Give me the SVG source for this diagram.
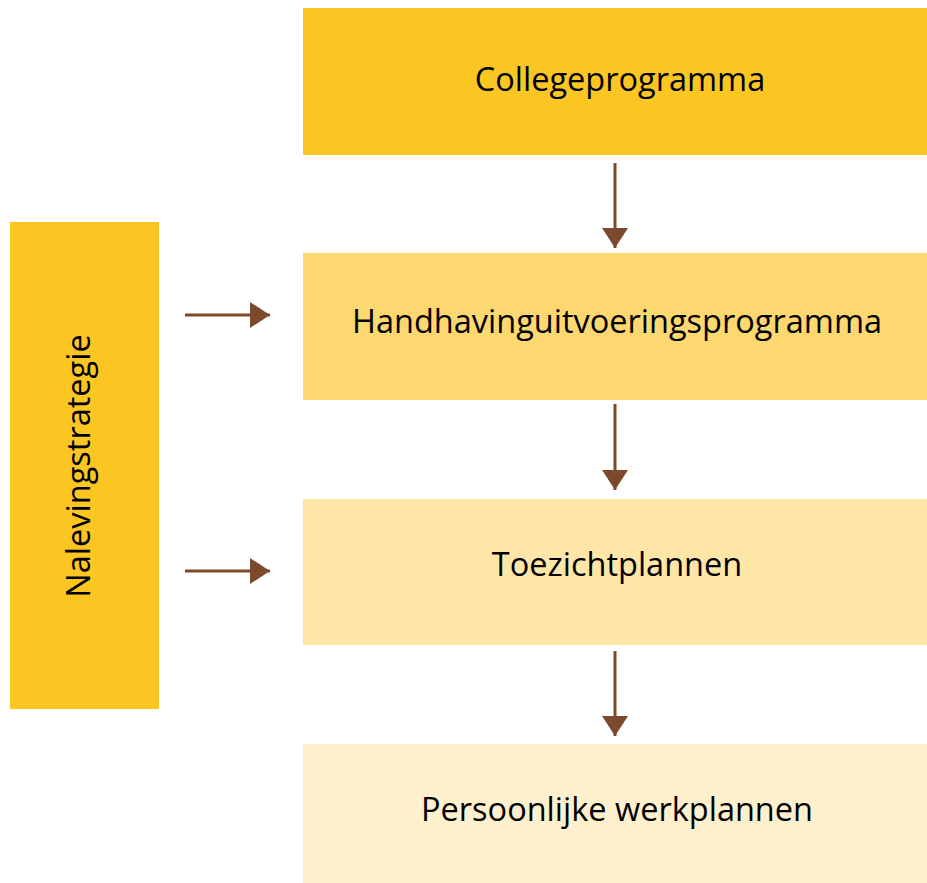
<svg xmlns="http://www.w3.org/2000/svg" width="927" height="883" viewBox="0 0 927 883">
<style>
.t{font-family:"Open Sans","Liberation Sans",sans-serif;font-size:32.5px;fill:#000;text-anchor:middle}
.c{stroke:#7B4A2D;stroke-width:3;fill:none}
</style>
<defs>
<marker id="ah" viewBox="0 0 20 26" refX="20" refY="13" markerWidth="20" markerHeight="26" markerUnits="userSpaceOnUse" orient="auto">
<path d="M0,0 L20,13 L0,26 Z" fill="#7B4A2D"/>
</marker>
</defs>
<rect width="927" height="883" fill="#fff"/>
<g id="nalevingstrategie">
<rect x="10" y="222" width="149" height="487" fill="#FCC622"/>
<text class="t" transform="translate(90,466) rotate(-90)">Nalevingstrategie</text>
</g>
<g id="collegeprogramma">
<rect x="303" y="8" width="624" height="147" fill="#FCC622"/>
<text class="t" x="620" y="91">Collegeprogramma</text>
</g>
<g id="handhaving">
<rect x="303" y="253" width="624" height="147" fill="#FDD870"/>
<text class="t" x="617" y="333">Handhavinguitvoeringsprogramma</text>
</g>
<g id="toezicht">
<rect x="303" y="499" width="624" height="146" fill="#FEE6A8"/>
<text class="t" x="617" y="576">Toezichtplannen</text>
</g>
<g id="persoonlijk">
<rect x="303" y="744" width="624" height="139" fill="#FEF0CC"/>
<text class="t" x="617" y="821">Persoonlijke werkplannen</text>
</g>
<g id="connectors">
<line class="c" x1="615" y1="163" x2="615" y2="248" marker-end="url(#ah)"/>
<line class="c" x1="615" y1="404" x2="615" y2="490" marker-end="url(#ah)"/>
<line class="c" x1="615" y1="651" x2="615" y2="736" marker-end="url(#ah)"/>
<line class="c" x1="185" y1="315" x2="270" y2="315" marker-end="url(#ah)"/>
<line class="c" x1="185" y1="571" x2="270" y2="571" marker-end="url(#ah)"/>
</g>
</svg>
